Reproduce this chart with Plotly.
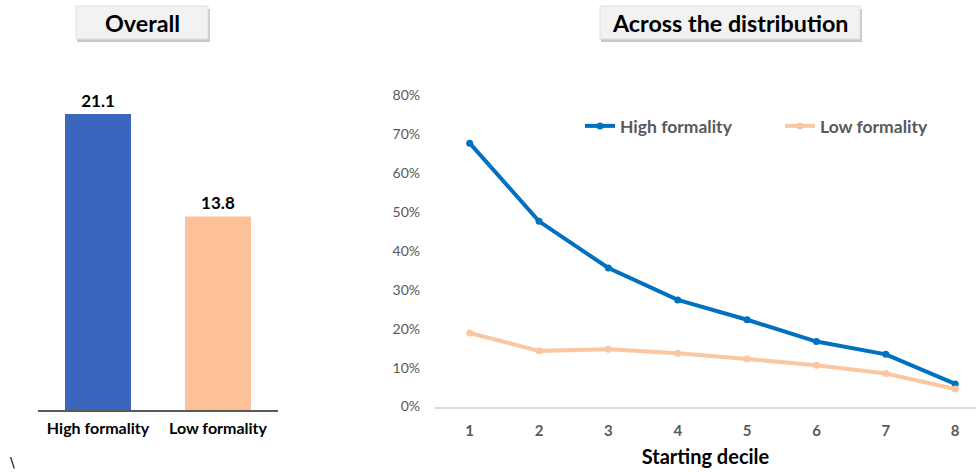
import plotly.graph_objects as go

# Overall averages by formality group
groups = ["High formality", "Low formality"]
overall = [21.1, 13.8]

# Share by starting decile (percent)
deciles = [1, 2, 3, 4, 5, 6, 7, 8]
high_formality = [67.7, 47.6, 35.6, 27.4, 22.3, 16.7, 13.4, 5.8]
low_formality = [18.9, 14.3, 14.7, 13.7, 12.2, 10.6, 8.5, 4.5]
pct_ticks = [0, 10, 20, 30, 40, 50, 60, 70, 80]

W, H = 976, 472
FONT = "Lato"
GRAY = "#595959"


def px_x(x):
    return x / W


def px_y(y):
    return 1 - y / H


fig = go.Figure()

fig.add_trace(go.Bar(
    x=groups, y=overall,
    marker=dict(color=["#3A66BE", "#FDC197"], line=dict(width=0)),
    width=0.55,
    text=[f"{v:.1f}" for v in overall],
    textposition="outside",
    textfont=dict(family=FONT, size=17, color="#000000", weight="bold"),
    cliponaxis=False,
    showlegend=False,
    xaxis="x", yaxis="y",
))

fig.add_trace(go.Scatter(
    x=deciles, y=high_formality, name="High formality",
    mode="lines+markers",
    line=dict(color="#0070C0", width=4),
    marker=dict(size=7, color="#0070C0"),
    cliponaxis=False,
    xaxis="x2", yaxis="y2",
))
fig.add_trace(go.Scatter(
    x=deciles, y=low_formality, name="Low formality",
    mode="lines+markers",
    line=dict(color="#FBC6A2", width=4),
    marker=dict(size=7, color="#FBC6A2"),
    cliponaxis=False,
    xaxis="x2", yaxis="y2",
))

# Title boxes with a soft drop shadow
shapes = []
annotations = []
for label, x0, x1 in [("Overall", 76, 208), ("Across the distribution", 600, 860)]:
    y0, y1 = 6, 39
    shapes.append(dict(type="rect", xref="paper", yref="paper",
                       x0=px_x(x0 + 1), x1=px_x(x1 + 2), y0=px_y(y0 + 3), y1=px_y(y1 + 3),
                       fillcolor="#C9C9C9", line=dict(width=0), layer="below"))
    shapes.append(dict(type="rect", xref="paper", yref="paper",
                       x0=px_x(x0), x1=px_x(x1), y0=px_y(y0), y1=px_y(y1),
                       fillcolor="#F2F2F2", line=dict(color="#E0E0E0", width=1), layer="below"))
    annotations.append(dict(text=label, xref="paper", yref="paper",
                            x=px_x((x0 + x1) / 2), y=px_y((y0 + y1) / 2),
                            xanchor="center", yanchor="middle", showarrow=False,
                            font=dict(family=FONT, size=23.3, color="#000000", weight="bold")))

annotations.append(dict(text="\\", xref="paper", yref="paper",
                        x=px_x(12), y=px_y(462), xanchor="center", yanchor="middle",
                        showarrow=False, font=dict(family="DejaVu Sans", size=14, color="#000000")))

fig.update_layout(
    width=W, height=H,
    # keep the plotting area equal to the full canvas so paper coords map to pixels
    margin=dict(l=0, r=0, t=0, b=0, autoexpand=False),
    paper_bgcolor="white", plot_bgcolor="white",
    font=dict(family=FONT, color=GRAY),
    xaxis=dict(domain=[px_x(38), px_x(278)], range=[-0.5, 1.5],
               showline=True, linecolor="#595959", linewidth=1.5,
               showgrid=False, zeroline=False, ticks="",
               ticklabelstandoff=3, automargin=False,
               tickfont=dict(family=FONT, size=16, color="#000000", weight="bold")),
    yaxis=dict(domain=[px_y(410), px_y(100)], range=[0, 310 / 14.03],
               visible=False),
    xaxis2=dict(domain=[px_x(435), 1.0], range=[0.5, 8.3],
                tickvals=deciles, ticks="",
                showline=True, linecolor="#D9D9D9", linewidth=1.5,
                showgrid=False, zeroline=False,
                ticklabelstandoff=10, automargin=False,
                tickfont=dict(family=FONT, size=15, color=GRAY, weight="bold"),
                title=dict(text="Starting decile", standoff=12,
                           font=dict(family=FONT, size=20, color="#000000", weight="bold")),
                anchor="y2"),
    yaxis2=dict(domain=[px_y(406.5), px_y(95.3)], range=[0, 80],
                tickvals=pct_ticks, ticktext=[f"{v}%" for v in pct_ticks],
                showgrid=False, zeroline=False, showline=False, ticks="",
                ticklabelstandoff=14, automargin=False,
                tickfont=dict(family=FONT, size=14, color=GRAY),
                anchor="x2"),
    legend=dict(orientation="h", x=px_x(580), y=px_y(126),
                xanchor="left", yanchor="middle",
                bgcolor="rgba(0,0,0,0)",
                entrywidth=155, entrywidthmode="pixels",
                itemwidth=30,
                font=dict(family=FONT, size=17.5, color=GRAY, weight="bold")),
    shapes=shapes,
    annotations=annotations,
)

fig.write_html("out.html")
